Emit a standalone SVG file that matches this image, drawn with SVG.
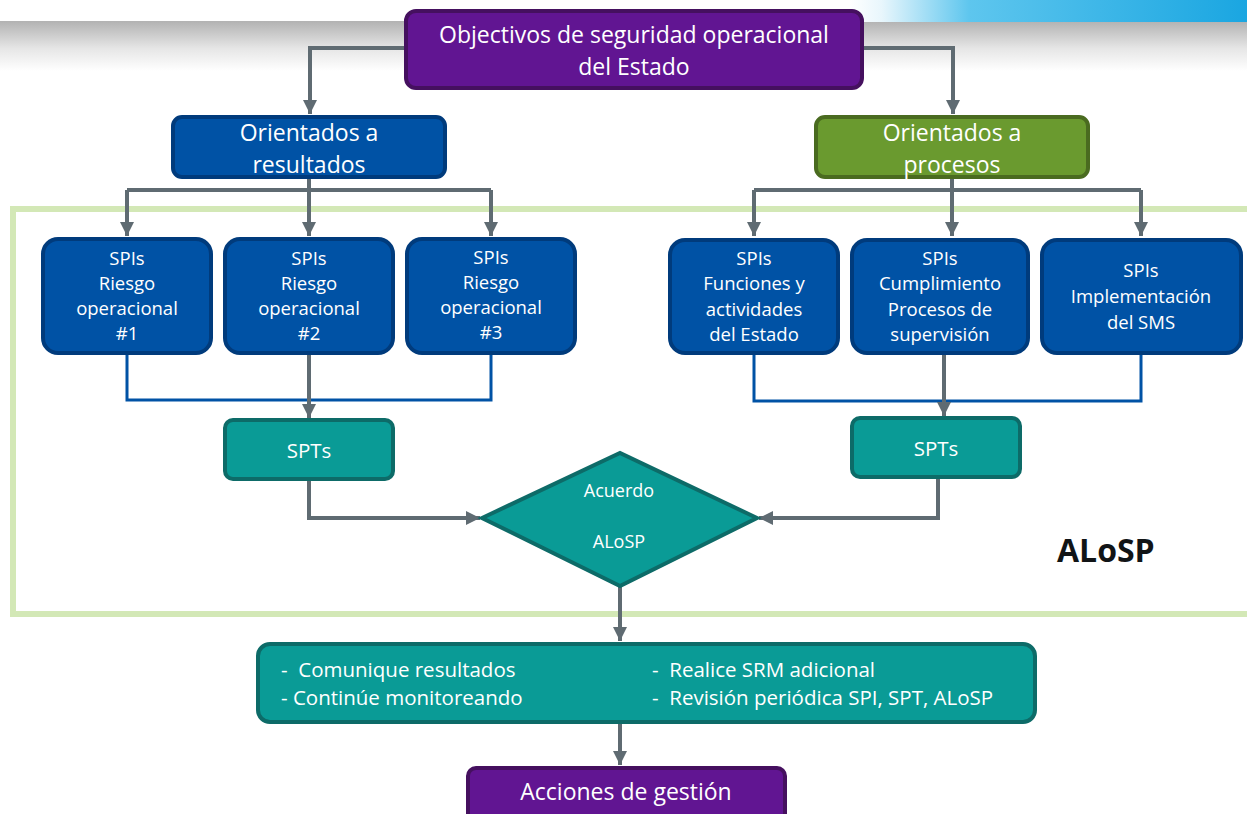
<svg xmlns="http://www.w3.org/2000/svg" width="1247" height="814" viewBox="0 0 1247 814">
<defs>
<linearGradient id="gband" x1="0" y1="0" x2="0" y2="1">
<stop offset="0" stop-color="#b2b2b2"/>
<stop offset="0.55" stop-color="#e6e6e6"/>
<stop offset="1" stop-color="#ffffff"/>
</linearGradient>
<linearGradient id="bband" x1="0" y1="0" x2="1" y2="0">
<stop offset="0" stop-color="#ffffff"/>
<stop offset="0.08" stop-color="#e8f6fc"/>
<stop offset="0.3" stop-color="#5ec6ee"/>
<stop offset="1" stop-color="#1aa6e1"/>
</linearGradient>
<marker id="arr" markerWidth="14" markerHeight="14" refX="14" refY="7" orient="auto" markerUnits="userSpaceOnUse">
<path d="M0,0 L14,7 L0,14 z" fill="#5f6b72"/>
</marker>
</defs>
<style>
.t{font-family:"Open Sans","Liberation Sans",sans-serif;fill:#ffffff;text-anchor:middle}
.l{text-anchor:start}
.purple{fill:#611592;stroke:#45105f;stroke-width:4}
.blue{fill:#0052a5;stroke:#003b7c;stroke-width:4}
.green{fill:#6a9a2f;stroke:#4a6b20;stroke-width:4}
.teal{fill:#0a9b96;stroke:#0d6b68;stroke-width:4}
.c{fill:none;stroke:#5f6b72;stroke-width:4}
.cb{fill:none;stroke:#0052a5;stroke-width:3}
.s18{font-size:18.5px}
.s22{font-size:23px}
.s20{font-size:20.5px}
</style>
<rect x="0" y="0" width="1247" height="814" fill="#ffffff"/>
<rect x="0" y="21" width="1247" height="50" fill="url(#gband)"/>
<rect x="850" y="0" width="397" height="22" fill="url(#bband)"/>
<rect x="13" y="209" width="1250" height="405" fill="none" stroke="#d3e8b6" stroke-width="6"/>

<g id="connectors">
<path class="c" d="M405,48 H310 V114" marker-end="url(#arr)"/>
<path class="c" d="M863,48 H953 V114" marker-end="url(#arr)"/>
<path class="c" d="M309,178 V190"/>
<path class="c" d="M127,190 H491"/>
<path class="c" d="M127,190 V236" marker-end="url(#arr)"/>
<path class="c" d="M309,190 V236" marker-end="url(#arr)"/>
<path class="c" d="M491,190 V236" marker-end="url(#arr)"/>
<path class="c" d="M952,178 V190"/>
<path class="c" d="M754,190 H1141"/>
<path class="c" d="M754,190 V236" marker-end="url(#arr)"/>
<path class="c" d="M952,190 V236" marker-end="url(#arr)"/>
<path class="c" d="M1141,190 V236" marker-end="url(#arr)"/>
<path class="cb" d="M127,354 V400 H491 V354"/>
<path class="cb" d="M754,354 V401 H1141 V354"/>
<path class="c" d="M309,354 V418" marker-end="url(#arr)"/>
<path class="c" d="M944,354 V416" marker-end="url(#arr)"/>
<path class="c" d="M309,480 V518 H480" marker-end="url(#arr)"/>
<path class="c" d="M938,478 V518 H759" marker-end="url(#arr)"/>
<path class="c" d="M620,586 V641" marker-end="url(#arr)"/>
<path class="c" d="M620,722 V765" marker-end="url(#arr)"/>
</g>

<g id="n-objetivos">
<rect class="purple" x="406" y="11" width="456" height="77" rx="10"/>
<text class="t s22" x="634" y="43">Objectivos de seguridad operacional</text>
<text class="t s22" x="634" y="75">del Estado</text>
</g>
<g id="n-resultados">
<rect class="blue" x="173" y="117" width="272" height="60" rx="9"/>
<text class="t s22" x="309" y="141">Orientados a</text>
<text class="t s22" x="309" y="173">resultados</text>
</g>
<g id="n-procesos">
<rect class="green" x="816" y="117" width="272" height="60" rx="9"/>
<text class="t s22" x="952" y="141">Orientados a</text>
<text class="t s22" x="952" y="173">procesos</text>
</g>

<g id="n-spi1">
<rect class="blue" x="43" y="239" width="168" height="114" rx="15"/>
<text class="t s18" x="127" y="265">SPIs</text>
<text class="t s18" x="127" y="290">Riesgo</text>
<text class="t s18" x="127" y="315">operacional</text>
<text class="t s18" x="127" y="340">#1</text>
</g>
<g id="n-spi2">
<rect class="blue" x="225" y="239" width="168" height="114" rx="15"/>
<text class="t s18" x="309" y="265">SPIs</text>
<text class="t s18" x="309" y="290">Riesgo</text>
<text class="t s18" x="309" y="315">operacional</text>
<text class="t s18" x="309" y="340">#2</text>
</g>
<g id="n-spi3">
<rect class="blue" x="407" y="239" width="168" height="114" rx="15"/>
<text class="t s18" x="491" y="264">SPIs</text>
<text class="t s18" x="491" y="289">Riesgo</text>
<text class="t s18" x="491" y="314">operacional</text>
<text class="t s18" x="491" y="339">#3</text>
</g>
<g id="n-spi4">
<rect class="blue" x="670" y="240" width="168" height="113" rx="15"/>
<text class="t s18" x="754" y="265">SPIs</text>
<text class="t s18" x="754" y="290">Funciones y</text>
<text class="t s18" x="754" y="316">actividades</text>
<text class="t s18" x="754" y="341">del Estado</text>
</g>
<g id="n-spi5">
<rect class="blue" x="852" y="240" width="176" height="113" rx="15"/>
<text class="t s18" x="940" y="265">SPIs</text>
<text class="t s18" x="940" y="290">Cumplimiento</text>
<text class="t s18" x="940" y="316">Procesos de</text>
<text class="t s18" x="940" y="341">supervisión</text>
</g>
<g id="n-spi6">
<rect class="blue" x="1042" y="240" width="199" height="113" rx="15"/>
<text class="t s18" x="1141" y="277">SPIs</text>
<text class="t s18" x="1141" y="303">Implementación</text>
<text class="t s18" x="1141" y="329">del SMS</text>
</g>

<g id="n-spt1">
<rect class="teal" x="225" y="420" width="168" height="59" rx="8"/>
<text class="t s20" x="309" y="458">SPTs</text>
</g>
<g id="n-spt2">
<rect class="teal" x="852" y="418" width="168" height="59" rx="8"/>
<text class="t s20" x="936" y="456">SPTs</text>
</g>

<g id="n-acuerdo">
<polygon class="teal" points="482,518 620,453 757,518 620,586"/>
<text class="t" font-size="18" x="619" y="497">Acuerdo</text>
<text class="t" font-size="18" x="619" y="548">ALoSP</text>
</g>

<g id="n-acciones-list">
<rect class="teal" x="258" y="644" width="777" height="78" rx="12"/>
<text class="t l s20" x="281" y="677" xml:space="preserve">-  Comunique resultados</text>
<text class="t l s20" x="281" y="705">- Continúe monitoreando</text>
<text class="t l s20" x="652" y="677" xml:space="preserve">-  Realice SRM adicional</text>
<text class="t l s20" x="652" y="705" xml:space="preserve">-  Revisión periódica SPI, SPT, ALoSP</text>
</g>

<g id="n-acciones">
<rect class="purple" x="468" y="768" width="317" height="56" rx="8"/>
<text class="t s22" x="626" y="800">Acciones de gestión</text>
</g>

<text id="lbl-alosp" x="1057" y="562" font-family="'Open Sans','Liberation Sans',sans-serif" font-weight="bold" font-size="32" fill="#111416">ALoSP</text>
</svg>
